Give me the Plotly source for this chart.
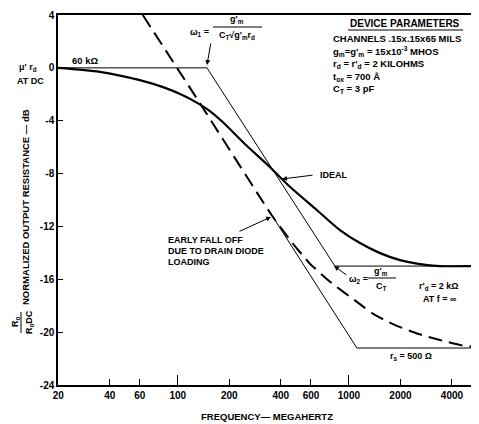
import plotly.graph_objects as go
import math

# ---- data ----
freq_ideal = [20, 35, 60, 82, 107, 129, 154, 183, 253, 345, 452, 649, 886, 1160, 1519, 1987, 2598, 3398, 5755]
db_ideal = [0, -0.3, -0.93, -1.46, -2.07, -2.63, -3.27, -4.1, -5.9, -7.5, -9.0, -10.76, -12.28, -13.26, -14.02, -14.55, -14.85, -15.0, -15.0]

freq_ideal_asym = [20, 148, 828, 5755]
db_ideal_asym = [0, 0, -15, -15]

freq_diode = [62.4, 134.5, 354, 464, 590, 795, 1085, 1380, 1807, 2500, 3400, 4570, 5755]
db_diode = [4, -2.67, -11.15, -13.2, -14.8, -16.3, -17.6, -18.6, -19.4, -20.1, -20.6, -21.0, -21.15]

freq_diode_asym = [354, 1113, 5755]
db_diode_asym = [-11.15, -21.2, -21.2]

x_ticks = [20, 40, 60, 100, 200, 400, 600, 1000, 2000, 4000]
x_long_ticks = [100, 1000]
y_ticks = [4, 0, -4, -8, -12, -16, -20, -24]

# page has an 8px body margin; figure is sized to fill the rest of the window
OFF = 8
W, H = 479 - OFF, 424 - OFF
PL, PT, PRt, PB = 58, 15, 479, 385   # plot area in page pixels
L, T = PL - OFF, PT - OFF
R = 0
PW, PH = PRt - PL, PB - PT
B = H - T - PH

def px(x):
    return (x - PL) / PW

def py(y):
    return (PB - y) / PH

FONT = "Liberation Sans"

fig = go.Figure()
fig.add_trace(go.Scatter(x=freq_ideal_asym, y=db_ideal_asym, mode="lines",
                         line=dict(color="black", width=1), showlegend=False))
fig.add_trace(go.Scatter(x=freq_diode_asym, y=db_diode_asym, mode="lines",
                         line=dict(color="black", width=1), showlegend=False))
fig.add_trace(go.Scatter(x=freq_ideal, y=db_ideal, mode="lines",
                         line=dict(color="black", width=2.2, shape="spline", smoothing=0.7),
                         showlegend=False))
fig.add_trace(go.Scatter(x=freq_diode, y=db_diode, mode="lines",
                         line=dict(color="black", width=2, dash="14px,7px", shape="spline", smoothing=0.5),
                         showlegend=False))
# invisible trace carrying the overlay axis with the longer decade ticks
fig.add_trace(go.Scatter(x=x_long_ticks, y=[None, None], xaxis="x2", mode="lines",
                         showlegend=False, hoverinfo="skip"))

ann = []

def txt(x, y, s, xa="center", size=9, angle=0):
    ann.append(dict(x=px(x), y=py(y), xref="paper", yref="paper", text=s, showarrow=False,
                    xanchor=xa, yanchor="middle", textangle=angle,
                    font=dict(family=FONT, size=size, color="black", weight="bold")))

def arrow(hx, hy, tx, ty):
    ann.append(dict(x=px(hx), y=py(hy), xref="paper", yref="paper", text="",
                    showarrow=True, ax=tx - hx, ay=ty - hy, arrowhead=2, arrowsize=1,
                    arrowwidth=1, arrowcolor="black", standoff=0))

# left axis labels
txt(28, 67, "μ' r<sub>d</sub>")
txt(30, 81, "AT DC")
txt(25, 207, "NORMALIZED OUTPUT RESISTANCE — dB", angle=-90, size=9.5)
txt(15, 322, "R<sub>o</sub>", angle=-90, size=9)
txt(29, 322, "R<sub>o</sub>DC", angle=-90, size=9)
txt(267, 416, "FREQUENCY— MEGAHERTZ", size=9.5)

# in-plot labels
txt(85, 61, "60 kΩ", size=9.5)
txt(199, 33, "ω<sub>1</sub> =")
txt(237, 20, "g'<sub>m</sub>")
txt(237, 35, "C<sub>T</sub>√g'<sub>m</sub>r<sub>d</sub>")
arrow(207, 65, 211, 42)

txt(405, 23, "DEVICE PARAMETERS", size=10)
txt(331, 38, "CHANNELS .15x.15x65 MILS", xa="left", size=9.5)
txt(331, 51, "g<sub>m</sub>=g'<sub>m</sub> = 15x10<sup>-3</sup> MHOS", xa="left", size=9.5)
txt(331, 64, "r<sub>d</sub> = r'<sub>d</sub> = 2 KILOHMS", xa="left", size=9.5)
txt(331, 77, "t<sub>ox</sub> = 700 Å", xa="left", size=9.5)
txt(331, 89, "C<sub>T</sub> = 3 pF", xa="left", size=9.5)

txt(318, 175, "IDEAL", xa="left")
arrow(282, 179, 314, 175)

txt(166, 240, "EARLY FALL OFF", xa="left")
txt(166, 251, "DUE TO DRAIN DIODE", xa="left")
txt(166, 262, "LOADING", xa="left")
arrow(271, 217, 238, 232)

txt(358, 279, "ω<sub>2</sub> =")
txt(381, 271, "g'<sub>m</sub>")
txt(381, 286, "C<sub>T</sub>")
arrow(334, 266, 348, 276)

txt(439, 286, "r'<sub>d</sub> = 2 kΩ")
txt(440, 299, "AT f = ∞")
txt(411, 356, "r<sub>s</sub> = 500 Ω")

def hline(x0, x1, y):
    return dict(type="line", xref="paper", yref="paper", x0=px(x0), x1=px(x1), y0=py(y), y1=py(y),
                line=dict(color="black", width=1))

shapes = [
    hline(213, 262, 27),
    hline(348, 463, 30),
    hline(368, 396, 278),
    dict(type="line", xref="paper", yref="paper", x0=px(21), x1=px(21), y0=py(312), y1=py(333),
         line=dict(color="black", width=1)),
]

tf = dict(family=FONT, size=10, color="black", weight="bold")
xrange = [math.log10(19.95), math.log10(5755)]
fig.update_layout(
    width=W, height=H,
    margin=dict(l=L, r=R, t=T, b=B),
    paper_bgcolor="white", plot_bgcolor="white",
    font=dict(family=FONT, size=10, color="black"),
    annotations=ann, shapes=shapes,
    xaxis=dict(type="log", range=xrange,
               tickvals=x_ticks, ticktext=[str(v) for v in x_ticks],
               ticks="inside", ticklen=6, tickcolor="black", tickwidth=1,
               showline=True, linecolor="black", linewidth=1.5, mirror=True,
               showgrid=False, zeroline=False, tickfont=tf),
    xaxis2=dict(type="log", range=xrange, overlaying="x", anchor="y", side="bottom",
                tickvals=x_long_ticks, showticklabels=False,
                ticks="inside", ticklen=10, tickcolor="black", tickwidth=1,
                showline=False, showgrid=False, zeroline=False),
    yaxis=dict(range=[-24, 4], tickvals=y_ticks, ticktext=[str(v) for v in y_ticks],
               ticks="inside", ticklen=5, tickcolor="black", tickwidth=1,
               showline=True, linecolor="black", linewidth=1.5,
               showgrid=False, zeroline=False, tickfont=tf),
)

fig.write_html("out.html")
